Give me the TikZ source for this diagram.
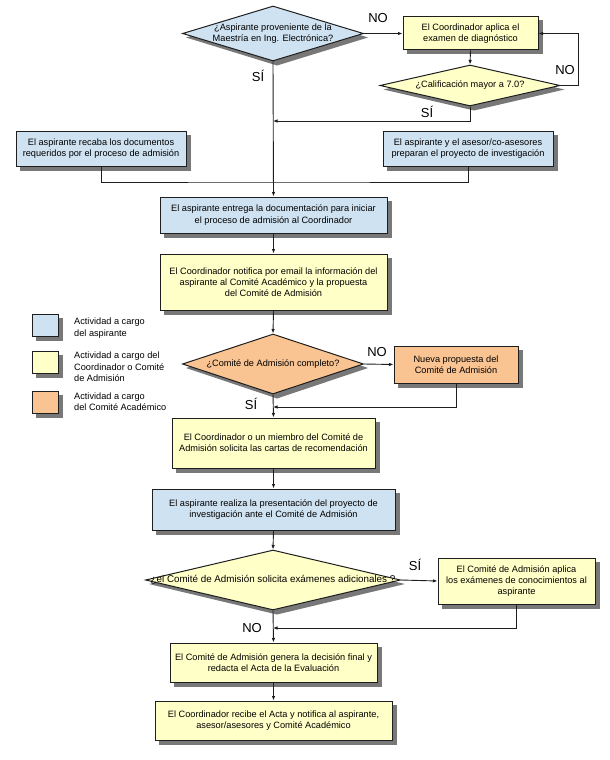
\documentclass[tikz,border=0pt]{standalone}
\usepackage{fontspec}
\setmainfont{Liberation Sans}
\usetikzlibrary{shapes.geometric,arrows.meta,backgrounds}
\definecolor{cblue}{RGB}{207,226,241}
\definecolor{cyel}{RGB}{255,255,200}
\definecolor{corg}{RGB}{250,196,146}
\definecolor{cline}{RGB}{30,30,30}
\definecolor{cshad}{RGB}{120,120,120}
\newcommand\bxf{\fontsize{9.2}{11.3}\selectfont}
\newcommand\dgf{\fontsize{9.8}{11.5}\selectfont}
\newcommand\lbf{\fontsize{13}{15}\selectfont}
\tikzset{
  boxbase/.style={draw=cline,line width=1pt,align=center,font=\bxf,inner sep=2pt},
  bluebox/.style={boxbase,fill=cblue},
  yelbox/.style={boxbase,fill=cyel},
  orgbox/.style={boxbase,fill=corg},
  diabase/.style={diamond,draw=cline,line width=1pt,inner sep=0pt},
  txt/.style={align=center,font=\bxf,inner sep=0pt},
  lab/.style={font=\lbf,inner sep=0pt},
  leg/.style={align=left,font=\bxf,inner sep=0pt,anchor=west},
  legsq/.style={draw=cline,line width=1pt,minimum width=26pt,minimum height=22pt,inner sep=0pt},
  conn/.style={draw=cline,line width=0.9pt},
  arr/.style={conn,-{Latex[length=4.5pt,width=3.5pt]}},
  shadfill/.style={fill=cshad}
}
\newcommand\boxshadow[1]{\fill[shadfill] ([xshift=4pt,yshift=-4pt]#1.south west) rectangle ([xshift=4pt,yshift=-4pt]#1.north east);}
\newcommand\diashadow[1]{\fill[shadfill] ([xshift=4pt,yshift=-4pt]#1.north) -- ([xshift=4pt,yshift=-4pt]#1.east) -- ([xshift=4pt,yshift=-4pt]#1.south) -- ([xshift=4pt,yshift=-4pt]#1.west) -- cycle;}
\begin{document}
\begin{tikzpicture}[x=1pt,y=-1pt]
\useasboundingbox (0,0) rectangle (610,760);
% top decision
\node[diabase,fill=cblue,minimum width=181pt,minimum height=55pt] (d1) at (273,33.5) {};
\node[txt] (d1t) at (d1) {¿Aspirante proveniente de la\\Maestría en Ing. Electrónica?};
\node[yelbox,minimum width=135pt,minimum height=33pt] (c1) at (470.5,33.5) {El Coordinador aplica el\\examen de diagnóstico};
\node[diabase,fill=cyel,minimum width=180pt,minimum height=41pt] (d2) at (470,85.5) {};
\node[txt] (d2t) at (d2) {¿Calificación mayor a 7.0?};
\coordinate (j1) at (273,121);
\coordinate (j2) at (273,182);
% row 2
\node[bluebox,minimum width=170pt,minimum height=35pt] (l1) at (101,148.5) {El aspirante recaba los documentos\\requeridos por el proceso de admisión};
\node[bluebox,minimum width=170pt,minimum height=35pt] (r1) at (468,148.5) {El aspirante y el asesor/co-asesores\\preparan el proyecto de investigación};
\node[bluebox,minimum width=227pt,minimum height=36pt] (b3) at (273.5,215) {El aspirante entrega la documentación para iniciar\\el proceso de admisión al Coordinador};
\node[yelbox,minimum width=227pt,minimum height=56pt] (b4) at (273.5,282) {El Coordinador notifica por email la información del\\aspirante al Comité Académico y la propuesta\\del Comité de Admisión};
\node[diabase,fill=corg,minimum width=181pt,minimum height=60pt] (d3) at (273,364) {};
\node[txt] (d3t) at (d3) {¿Comité de Admisión completo?};
\node[orgbox,minimum width=124pt,minimum height=37pt] (np) at (456,364.5) {Nueva propuesta del\\Comité de Admisión};
\coordinate (j3) at (273,407);
\node[yelbox,minimum width=203pt,minimum height=50pt] (b5) at (273.5,443) {El Coordinador o un miembro del Comité de\\Admisión solicita las cartas de recomendación};
\node[bluebox,minimum width=243pt,minimum height=41pt] (b6) at (273.5,509.5) {El aspirante realiza la presentación del proyecto de\\investigación ante el Comité de Admisión};
\node[diabase,fill=cyel,minimum width=255pt,minimum height=60pt] (d4) at (273,580) {};
\node[txt,font=\dgf] (d4t) at (d4) {¿el Comité de Admisión solicita exámenes adicionales ?};
\node[yelbox,minimum width=157pt,minimum height=46pt] (ex) at (516.5,581) {El Comité de Admisión aplica\\los exámenes de conocimientos al\\aspirante};
\coordinate (j4) at (273,628);
\node[yelbox,minimum width=207pt,minimum height=39pt] (b7) at (273.5,662.5) {El Comité de Admisión genera la decisión final y\\redacta el Acta de la Evaluación};
\node[yelbox,minimum width=237pt,minimum height=39pt] (b8) at (273.5,720.5) {El Coordinador recibe el Acta y notifica al aspirante,\\asesor/asesores y Comité Académico};
% legend
\node[legsq,fill=cblue] (q1) at (45,325) {};
\node[leg] (q1t) at (74,328) {Actividad a cargo\\del aspirante};
\node[legsq,fill=cyel] (q2) at (45,362.5) {};
\node[leg] (q2t) at (74,367) {Actividad a cargo del\\Coordinador o Comité\\de Admisión};
\node[legsq,fill=corg] (q3) at (45,402) {};
\node[leg] (q3t) at (74,402) {Actividad a cargo\\del Comité Académico};
% shadows
\begin{scope}[on background layer]
\boxshadow{c1}\boxshadow{l1}\boxshadow{r1}\boxshadow{b3}\boxshadow{b4}
\boxshadow{np}\boxshadow{b5}\boxshadow{b6}\boxshadow{ex}\boxshadow{b7}
\boxshadow{b8}\boxshadow{q1}\boxshadow{q2}\boxshadow{q3}
\diashadow{d1}\diashadow{d2}\diashadow{d3}\diashadow{d4}
\end{scope}
% connectors
\draw[arr] (d1.east) -- (c1.west);
\draw[arr] (c1.south) -- (d2.north);
\draw[arr] (d2.east) -- ++(18,0) |- (c1.east);
\draw[arr] (d2.south) |- (j1);
\draw[arr] (d1.south) -- (b3.north);
\draw[conn] (l1.south) |- (j2) -| (r1.south);
\draw[arr] (b3.south) -- (b4.north);
\draw[arr] (b4.south) -- (d3.north);
\draw[arr] (d3.east) -- (np.west);
\draw[arr] (np.south) |- (j3);
\draw[arr] (d3.south) -- (b5.north);
\draw[arr] (b5.south) -- (b6.north);
\draw[arr] (b6.south) -- (d4.north);
\draw[arr] (d4.east) -- (ex.west);
\draw[arr] (ex.south) |- (j4);
\draw[arr] (d4.south) -- (b7.north);
\draw[arr] (b7.south) -- (b8.north);
% labels
\node[lab] (n1) at (378,18) {NO};
\node[lab] (s1) at (258,76) {SÍ};
\node[lab] (n2) at (565,70) {NO};
\node[lab] (s2) at (427,112) {SÍ};
\node[lab] (n3) at (377,352) {NO};
\node[lab] (s3) at (251,404) {SÍ};
\node[lab] (s4) at (415,565) {SÍ};
\node[lab] (n4) at (252,628) {NO};
\end{tikzpicture}
\end{document}
